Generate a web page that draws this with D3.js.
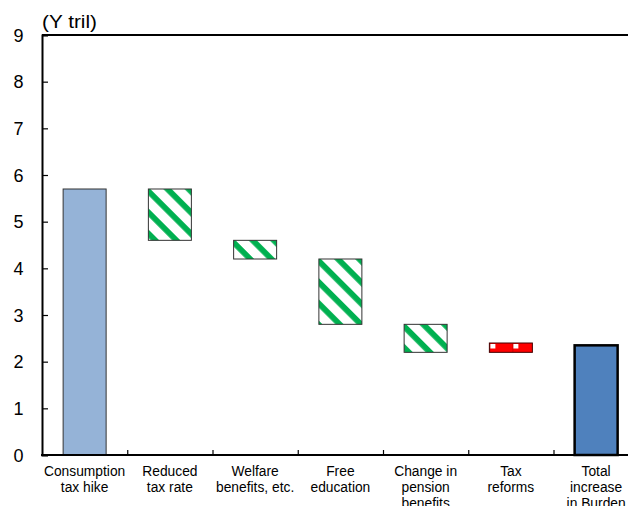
<!DOCTYPE html>
<html>
<head>
<meta charset="utf-8">
<script src="https://cdn.jsdelivr.net/npm/d3@7"></script>
<style>
  html, body { margin: 0; padding: 0; background: #fff; }
  svg { display: block; font-family: "Liberation Sans", Arial, sans-serif; }
</style>
</head>
<body>
<svg id="chart" width="628" height="506"></svg>
<script>
// Waterfall: consumption tax hike and the offsetting measures (Y tril)
const categories = [
  "Consumption\ntax hike",
  "Reduced\ntax rate",
  "Welfare\nbenefits, etc.",
  "Free\neducation",
  "Change in\npension\nbenefits",
  "Tax\nreforms",
  "Total\nincrease\nin Burden"
];
// Start and end level of each bar
const barStart = [0, 5.7, 4.6, 4.2, 2.8, 2.2, 0];
const barEnd   = [5.7, 4.6, 4.2, 2.8, 2.2, 2.4, 2.35];
// Bar kind: total column, offsetting measure, or additional burden
const barKind  = ["total", "offset", "offset", "offset", "offset", "burden", "grand"];
const yTicks = [0, 1, 2, 3, 4, 5, 6, 7, 8, 9];
const unitLabel = "(Y tril)";

const svg = d3.select("#chart");
const plotLeft = 42, plotTop = 35, plotBottom = 455;
const band = 85.25;

const x = d3.scaleBand()
  .domain(d3.range(categories.length))
  .range([plotLeft, plotLeft + band * categories.length])
  .paddingInner(0).paddingOuter(0);
const y = d3.scaleLinear().domain([0, 9]).range([plotBottom, plotTop]);

const barW = 43;
const defs = svg.append("defs");

// Diagonal green hatch for offsetting measures, red tile for added burden
barKind.forEach((k, i) => {
  const bx = x(i) + (band - barW) / 2;
  const by = y(Math.max(barStart[i], barEnd[i]));
  if (k === "offset") {
    const p = defs.append("pattern")
      .attr("id", "hatch" + i)
      .attr("patternUnits", "userSpaceOnUse")
      .attr("width", 15).attr("height", 15)
      .attr("patternTransform", `translate(${bx},${by - 2}) rotate(45)`);
    p.append("rect").attr("width", 15).attr("height", 15).attr("fill", "#fff");
    p.append("rect").attr("width", 15).attr("height", 5.8).attr("fill", "#00B050");
  } else if (k === "burden") {
    const p = defs.append("pattern")
      .attr("id", "dots" + i)
      .attr("patternUnits", "userSpaceOnUse")
      .attr("width", 23).attr("height", 12)
      .attr("x", bx).attr("y", by);
    p.append("rect").attr("width", 23).attr("height", 12).attr("fill", "#FF0000");
    p.append("rect").attr("x", 0).attr("y", 0).attr("width", 1).attr("height", 12).attr("fill", "#D00000");
    p.append("rect").attr("x", 1).attr("y", 1).attr("width", 5).attr("height", 4.5).attr("fill", "#fff");
  }
});

const bars = svg.append("g");
categories.forEach((c, i) => {
  const lo = Math.min(barStart[i], barEnd[i]);
  const hi = Math.max(barStart[i], barEnd[i]);
  const bx = x(i) + (band - barW) / 2;
  const r = bars.append("rect")
    .attr("x", bx)
    .attr("y", y(hi))
    .attr("width", barW)
    .attr("height", y(lo) - y(hi));
  const k = barKind[i];
  if (k === "total") {
    r.attr("fill", "#95B3D7").attr("stroke", "#333").attr("stroke-width", 1);
  } else if (k === "grand") {
    r.attr("fill", "#4F81BD").attr("stroke", "#000").attr("stroke-width", 2.5);
  } else if (k === "offset") {
    r.attr("fill", `url(#hatch${i})`).attr("stroke", "#333").attr("stroke-width", 1);
  } else {
    r.attr("fill", `url(#dots${i})`).attr("stroke", "#400").attr("stroke-width", 1);
  }
});

// Frame: top border line
svg.append("line")
  .attr("x1", plotLeft).attr("x2", 628)
  .attr("y1", plotTop).attr("y2", plotTop)
  .attr("stroke", "#000").attr("stroke-width", 2);

// Y axis with inward ticks
const yAxis = d3.axisRight(y).tickValues(yTicks).tickSize(6).tickFormat("");
const gy = svg.append("g").attr("transform", `translate(${plotLeft},0)`).call(yAxis);
gy.select(".domain").attr("stroke", "#000").attr("stroke-width", 2);
gy.selectAll(".tick line").attr("stroke", "#000").attr("stroke-width", 1.2);

svg.append("g").selectAll("text")
  .data(yTicks)
  .join("text")
  .attr("x", 23.5)
  .attr("y", d => y(d) + 6.5)
  .attr("text-anchor", "end")
  .attr("font-size", 18)
  .attr("fill", "#000")
  .text(d => d);

svg.append("text")
  .attr("x", 42).attr("y", 28)
  .attr("font-size", 18)
  .attr("textLength", 55)
  .attr("lengthAdjust", "spacingAndGlyphs")
  .attr("fill", "#000")
  .text(unitLabel);

// X axis with boundary ticks pointing up
const xb = d3.scaleLinear().domain([0, categories.length]).range([plotLeft, plotLeft + band * categories.length]);
const xAxis = d3.axisTop(xb).tickValues(d3.range(1, categories.length)).tickSize(5).tickFormat("");
const gx = svg.append("g").attr("transform", `translate(0,${plotBottom})`).call(xAxis);
gx.select(".domain").remove();
gx.selectAll(".tick line").attr("stroke", "#000").attr("stroke-width", 1.2);
svg.append("line")
  .attr("x1", plotLeft - 1).attr("x2", 628)
  .attr("y1", plotBottom).attr("y2", plotBottom)
  .attr("stroke", "#000").attr("stroke-width", 2);

// Category labels
const lab = svg.append("g");
categories.forEach((c, i) => {
  const t = lab.append("text")
    .attr("text-anchor", "middle")
    .attr("font-size", 13.8)
    .attr("fill", "#000");
  c.split("\n").forEach((line, j) => {
    t.append("tspan")
      .attr("x", x(i) + band / 2)
      .attr("y", 476 + j * 15.8)
      .text(line);
  });
});
</script>
</body>
</html>
